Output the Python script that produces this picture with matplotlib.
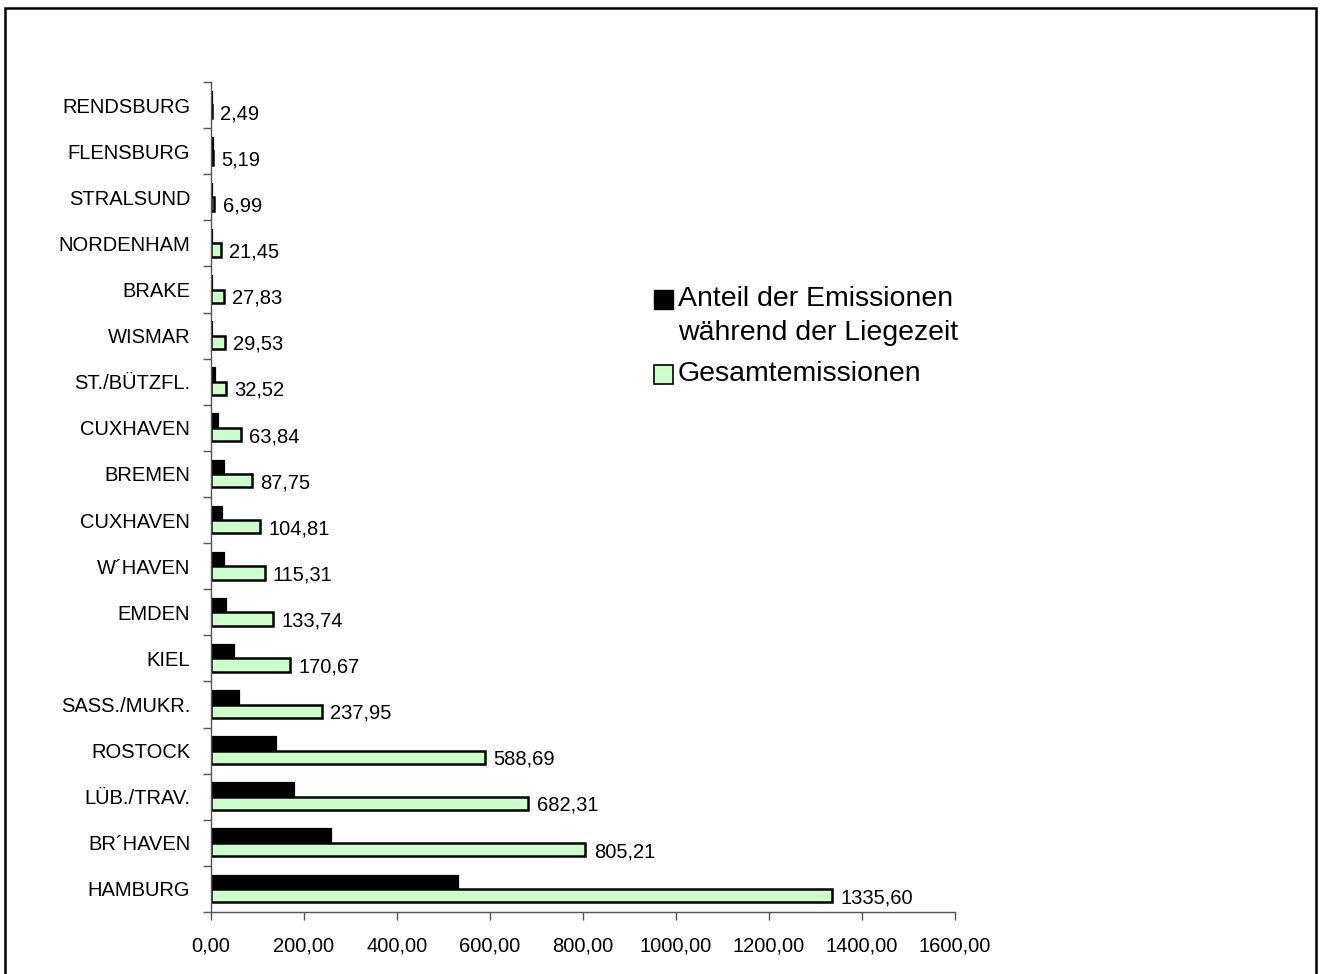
import matplotlib
matplotlib.use('Agg')
import matplotlib.pyplot as plt
import numpy as np
from matplotlib.patches import Rectangle

plt.rcParams['font.family'] = ['Liberation Sans', 'DejaVu Sans']

# data, bottom to top
ports = ['HAMBURG', 'BR´HAVEN', 'LÜB./TRAV.', 'ROSTOCK', 'SASS./MUKR.', 'KIEL',
         'EMDEN', 'W´HAVEN', 'CUXHAVEN', 'BREMEN', 'CUXHAVEN', 'ST./BÜTZFL.',
         'WISMAR', 'BRAKE', 'NORDENHAM', 'STRALSUND', 'FLENSBURG', 'RENDSBURG']
gesamt = [1335.60, 805.21, 682.31, 588.69, 237.95, 170.67, 133.74, 115.31, 104.81,
          87.75, 63.84, 32.52, 29.53, 27.83, 21.45, 6.99, 5.19, 2.49]
liegezeit = [531, 259, 179, 140, 60, 50, 32, 27, 24, 27, 16, 9, 3, 3, 3, 1.5, 4, 2]
xticks = [0, 200, 400, 600, 800, 1000, 1200, 1400, 1600]

green = '#CCFFCC'
fs = 14.5

fig = plt.figure(figsize=(13.21, 9.74), dpi=100)
ax = fig.add_axes([211/1321, 1 - 912/974, (955 - 211)/1321, (912 - 82)/974])

y = np.arange(len(ports))
h = 0.29
ax.barh(y + h/2, liegezeit, height=h, color='black', edgecolor='black', linewidth=1.6)
ax.barh(y - h/2, gesamt, height=h, color=green, edgecolor='black', linewidth=1.8)

for yi, v in zip(y, gesamt):
    ax.annotate(f'{v:.2f}'.replace('.', ','), (v, yi - h/2), xytext=(6, -1.5),
                textcoords='offset points', va='center', ha='left', fontsize=fs)

ax.set_xlim(0, 1600)
ax.set_ylim(-0.5, len(ports) - 0.5)
ax.set_xticks(xticks)
ax.set_xticklabels([f'{t:.2f}'.replace('.', ',') for t in xticks], fontsize=fs)
ax.tick_params(axis='x', direction='out', length=6, width=1, color='#555555', pad=12)

# tick marks between categories, labels at the centres
ax.set_yticks(np.arange(len(ports) + 1) - 0.5)
ax.set_yticklabels([])
ax.tick_params(axis='y', which='major', direction='out', length=6, width=1, color='#555555')
ax.set_yticks(y, minor=True)
ax.set_yticklabels(ports, minor=True, fontsize=fs)
ax.tick_params(axis='y', which='minor', length=0, pad=15)

for s in ['top', 'right']:
    ax.spines[s].set_visible(False)
for s in ['left', 'bottom']:
    ax.spines[s].set_color('#555555')
    ax.spines[s].set_linewidth(1)

# legend drawn by hand
W, H = 1321, 974
fig.add_artist(Rectangle((654/W, 1 - 309/H), 19/W, 19/H, transform=fig.transFigure,
                         facecolor='black', edgecolor='black', lw=1))
fig.add_artist(Rectangle((654/W, 1 - 384/H), 19/W, 19/H, transform=fig.transFigure,
                         facecolor=green, edgecolor='black', lw=1.2))
fig.text(678/W, 1 - 299/H, 'Anteil der Emissionen', fontsize=20.5, va='center')
fig.text(678/W, 1 - 333/H, 'während der Liegezeit', fontsize=20.5, va='center')
fig.text(678/W, 1 - 374/H, 'Gesamtemissionen', fontsize=20.5, va='center')

# outer frame
fig.add_artist(Rectangle((5/W, -0.02), 1311/W, 1.02 - 8/H, transform=fig.transFigure,
                         facecolor='none', edgecolor='black', lw=1.8))

fig.savefig('out.png', dpi=100)
